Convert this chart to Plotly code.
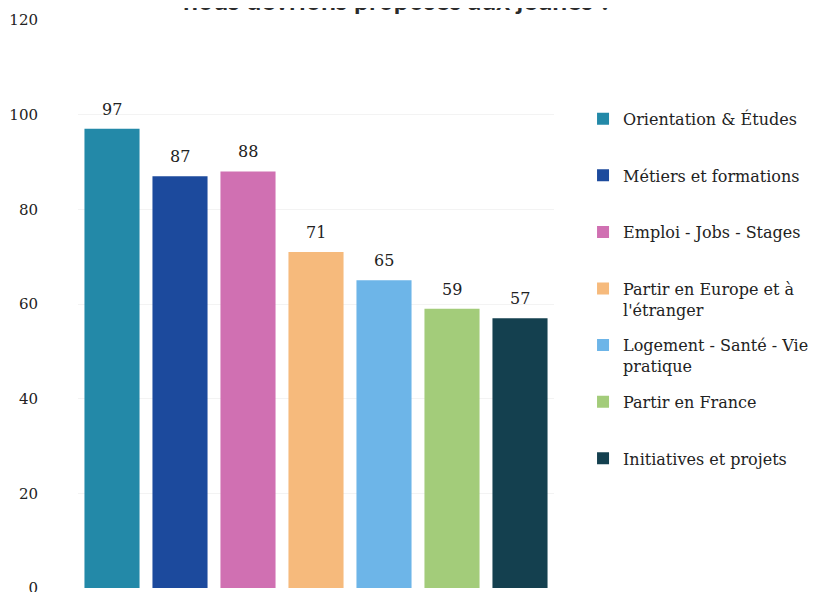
import plotly.graph_objects as go

categories = ["Orientation & Études", "Métiers et formations", "Emploi - Jobs - Stages",
              "Partir en Europe et à<br>l'étranger", "Logement - Santé - Vie<br>pratique",
              "Partir en France", "Initiatives et projets"]
values = [97, 87, 88, 71, 65, 59, 57]
colors = ["#2389a8", "#1c4a9d", "#d070b2", "#f6ba7c", "#6db5e8", "#a3cc7a", "#14404f"]
y_ticks = [0, 20, 40, 60, 80, 100, 120]
title_text = "nous devrions proposés aux jeunes ?"

serif = "DejaVu Serif"
fig = go.Figure()
for i, (name, v, c) in enumerate(zip(categories, values, colors)):
    legend_name = name if "<br>" in name else name + "<br> "
    fig.add_trace(go.Bar(
        x=[i], y=[v], name=legend_name, marker=dict(color=c, line=dict(width=0)),
        legendgroup=str(i),
    ))
    fig.add_annotation(x=i, y=v, text=str(v), showarrow=False, yanchor="bottom", yshift=8,
                       font=dict(family=serif, size=16, color="#222222"))

fig.add_annotation(text="<b>" + title_text + "</b>", xref="paper", yref="paper",
                   x=0.672, y=1, xanchor="center", yanchor="middle", yshift=20,
                   showarrow=False, font=dict(family="Lato", size=26.5, color="#2b2b2b"))

fig.update_layout(
    width=833, height=592,
    margin=dict(l=70, r=287, t=12, b=12, autoexpand=False),
    paper_bgcolor="white", plot_bgcolor="white",
    barmode="overlay", bargap=0.19,
    showlegend=True,
    legend=dict(x=1.061, xanchor="left", y=0.856, yanchor="top",
                font=dict(family=serif, size=16, color="#222222"),
                valign="top", tracegroupgap=12, itemclick=False),
    xaxis=dict(range=[-0.5, 6.5], showticklabels=False, showgrid=False, zeroline=False,
               showline=False, ticks="", automargin=False),
    yaxis=dict(range=[0, 120], tickvals=y_ticks, showgrid=True, gridcolor="#f3f3f3",
               zeroline=False, showline=False, ticks="", ticklabelstandoff=39,
               automargin=False,
               tickfont=dict(family=serif, size=15, color="#222222")),
)

fig.write_html("out.html")
